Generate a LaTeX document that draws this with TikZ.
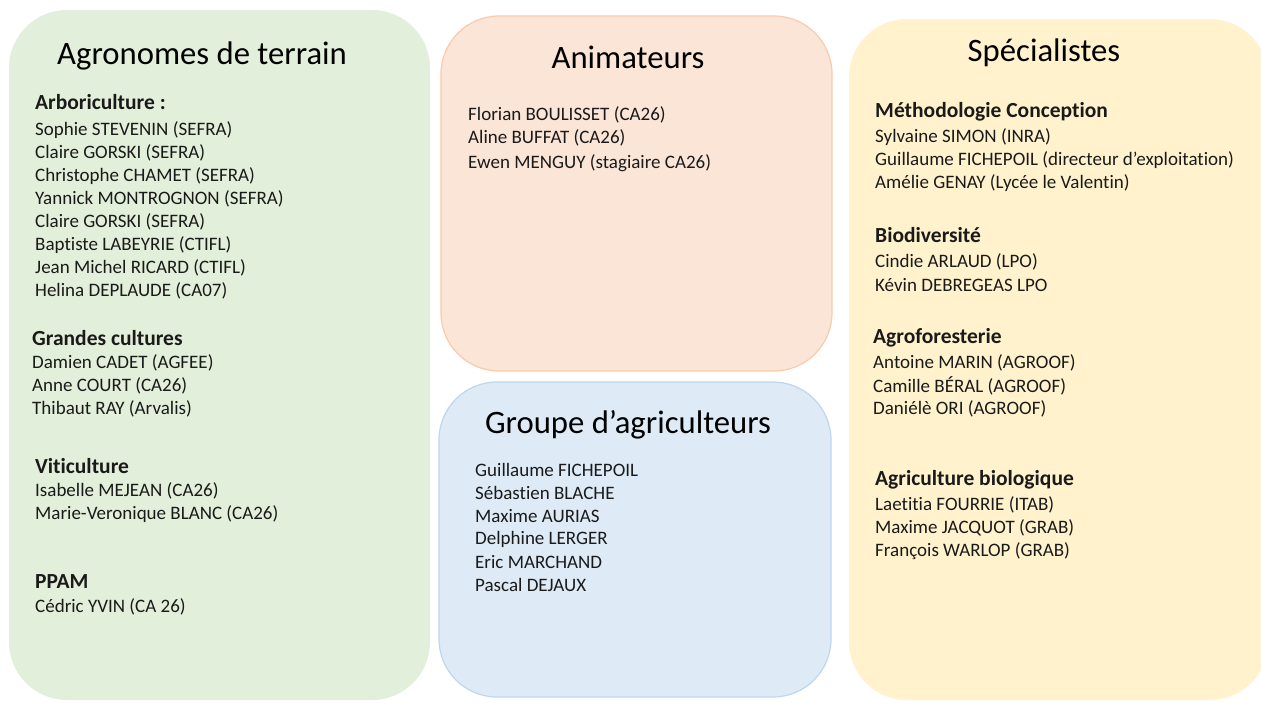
\documentclass[tikz,border=0pt]{standalone}
\usepackage{fontspec}
\setmainfont{Carlito}[Ligatures=NoCommon]
\definecolor{greenfill}{HTML}{E2EFDA}
\definecolor{orangefill}{HTML}{FBE5D6}
\definecolor{orangeline}{HTML}{F8CBAD}
\definecolor{bluefill}{HTML}{DEEBF7}
\definecolor{blueline}{HTML}{BDD7EE}
\definecolor{yellowfill}{HTML}{FFF2CC}
\definecolor{ink}{HTML}{1A1A1A}
\begin{document}
\begin{tikzpicture}[x=1pt,y=-1pt,
  panel/.style={rounded corners=58pt},
  title/.style={font=\fontsize{32.7}{36}\selectfont, text=black, inner sep=0pt},
  head/.style={font=\fontsize{21.5}{24}\selectfont\bfseries, text=ink, anchor=west, inner sep=0pt},
  item/.style={font=\fontsize{19}{22}\selectfont, text=ink, anchor=west, inner sep=0pt}]
\useasboundingbox (0,0) rectangle (1261,702);
\clip (0,0) rectangle (1261,702);
\fill[white] (0,0) rectangle (1261,702);

% four panels
\path[panel, fill=greenfill] (9,10) rectangle (430,700);
\path[panel, fill=orangefill, draw=orangeline, line width=1.2pt] (441,16) rectangle (832,371);
\path[panel, fill=bluefill, draw=blueline, line width=1.2pt] (439,382) rectangle (831,697);
\path[panel, fill=yellowfill] (849,19) rectangle (1268,700);

% field agronomists
\node[title] (tagro) at (202,56) {Agronomes de terrain};
\node[head] (harbo) at (35,102) {Arboriculture :};
\node[item] (a1) at (35,130) {Sophie STEVENIN (SEFRA)};
\node[item] (a2) at (35,153) {Claire GORSKI (SEFRA)};
\node[item] (a3) at (35,176) {Christophe CHAMET (SEFRA)};
\node[item] (a4) at (35,199) {Yannick MONTROGNON (SEFRA)};
\node[item] (a5) at (35,222) {Claire GORSKI (SEFRA)};
\node[item] (a6) at (35,245) {Baptiste LABEYRIE (CTIFL)};
\node[item] (a7) at (35,268) {Jean Michel RICARD (CTIFL)};
\node[item] (a8) at (35,291) {Helina DEPLAUDE (CA07)};
\node[head] (hgc) at (32,338) {Grandes cultures};
\node[item] (c1) at (32,363) {Damien CADET (AGFEE)};
\node[item] (c2) at (32,386) {Anne COURT (CA26)};
\node[item] (c3) at (32,409) {Thibaut RAY (Arvalis)};
\node[head] (hviti) at (35,466) {Viticulture};
\node[item] (v1) at (35,491) {Isabelle MEJEAN (CA26)};
\node[item] (v2) at (35,514) {Marie-Veronique BLANC (CA26)};
\node[head] (hppam) at (35,582) {PPAM};
\node[item] (p1) at (35,607) {Cédric YVIN (CA 26)};

% facilitators
\node[title] (tanim) at (628,57) {Animateurs};
\node[item] (n1) at (468,115) {Florian BOULISSET (CA26)};
\node[item] (n2) at (468,138) {Aline BUFFAT (CA26)};
\node[item] (n3) at (468,163) {Ewen MENGUY (stagiaire CA26)};

% farmers group
\node[title] (tgroupe) at (628,425) {Groupe d’agriculteurs};
\node[item] (f1) at (475,470) {Guillaume FICHEPOIL};
\node[item] (f2) at (475,493) {Sébastien BLACHE};
\node[item] (f3) at (475,516) {Maxime AURIAS};
\node[item] (f4) at (475,539) {Delphine LERGER};
\node[item] (f5) at (475,562) {Eric MARCHAND};
\node[item] (f6) at (475,585) {Pascal DEJAUX};

% specialists
\node[title] (tspec) at (1044,53) {Spécialistes};
\node[head] (hmeth) at (875,112) {Méthodologie Conception};
\node[item] (s1) at (875,137) {Sylvaine SIMON (INRA)};
\node[item] (s2) at (875,160) {Guillaume FICHEPOIL (directeur d’exploitation)};
\node[item] (s3) at (875,183) {Amélie GENAY (Lycée le Valentin)};
\node[head] (hbio) at (875,235) {Biodiversité};
\node[item] (b1) at (875,262) {Cindie ARLAUD (LPO)};
\node[item] (b2) at (875,285) {Kévin DEBREGEAS LPO};
\node[head] (hagrof) at (873,338) {Agroforesterie};
\node[item] (g1) at (873,363) {Antoine MARIN (AGROOF)};
\node[item] (g2) at (873,386) {Camille BÉRAL (AGROOF)};
\node[item] (g3) at (873,409) {Daniélè ORI (AGROOF)};
\node[head] (hab) at (875,480) {Agriculture biologique};
\node[item] (ab1) at (875,505) {Laetitia FOURRIE (ITAB)};
\node[item] (ab2) at (875,528) {Maxime JACQUOT (GRAB)};
\node[item] (ab3) at (875,551) {François WARLOP (GRAB)};
\end{tikzpicture}
\end{document}
